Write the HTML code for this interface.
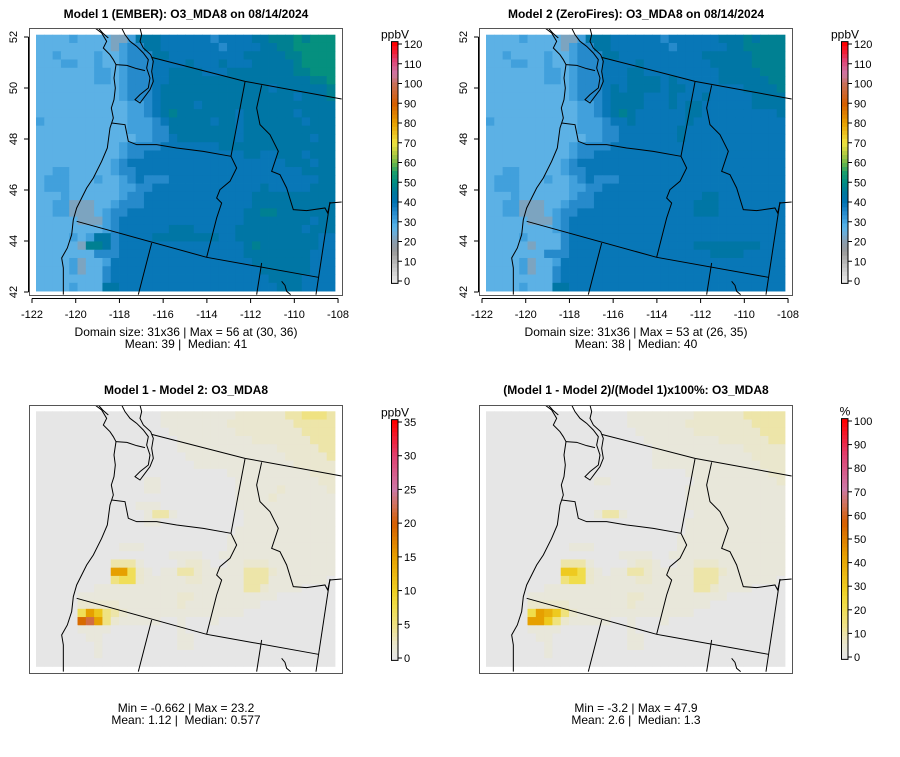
<!DOCTYPE html>
<html><head><meta charset="utf-8"><style>
html,body{margin:0;padding:0;background:#fff;}
svg text{font-family:"Liberation Sans",sans-serif;}
</style></head><body>
<svg id="chart" width="900" height="752" xmlns="http://www.w3.org/2000/svg"></svg>
<script>
// ---------- DATA ----------
const panelTitles = ["Model 1 (EMBER): O3_MDA8 on 08/14/2024","Model 2 (ZeroFires): O3_MDA8 on 08/14/2024","Model 1 - Model 2: O3_MDA8","(Model 1 - Model 2)/(Model 1)x100%: O3_MDA8"];
const statLine1 = ["Domain size: 31x36 | Max = 56 at (30, 36)","Domain size: 31x36 | Max = 53 at (26, 35)","Min = -0.662 | Max = 23.2","Min = -3.2 | Max = 47.9"];
const statLine2 = ["Mean: 39 |\u00a0 Median: 41","Mean: 38 |\u00a0 Median: 40","Mean: 1.12 |\u00a0 Median: 0.577","Mean: 2.6 |\u00a0 Median: 1.3"];
const xTicks = [-122,-120,-118,-116,-114,-112,-110,-108];
const yTicks = [42,44,46,48,50,52];
const ticksTop = [0,10,20,30,40,50,60,70,80,90,100,110,120];
const ticksDiff = [0,5,10,15,20,25,30,35];
const ticksPct = [0,10,20,30,40,50,60,70,80,90,100];
const codeTop = [12,17,22,27,31,35,39,43,47,51,55];
const codeDiff = [0,1,2,3.5,5,7,11,15,19,22];
const codePct = [0,3,6,10,15,22,30,38,43,48];
const gridM1 = [
"333343333224777666666566667788898999",
"333333333245577666666656666778899999",
"334333343345557766666666677777889999",
"333443343345556666766676667777789999",
"333333344345556677776667777777788999",
"333333344345556677777777777777777889",
"333333333345556777777777777767777778",
"333333333345556777777777777777767778",
"333333333334456777767777777777777777",
"333333333334456787777777677777767777",
"433333333334445677777677677777776777",
"333333333334445577777777677777777777",
"333333333333445567777777677777777677",
"333333333345555666666677777777777777",
"333333333345566666666666677667776777",
"333333333456666666666666666666777677",
"334433333455666666666666666666667777",
"344433343345655566666666666666666677",
"344433333344556666666666666766666777",
"333433333345566666666666667777777777",
"334422233455566666666666667777777777",
"334422234556666666666666677887777777",
"333332224566666666666666677777777677",
"333333334566666677766666777777776777",
"333343477566667777777766777777777766",
"333332887566666666666666678777777766",
"333333355566666666666666677777777666",
"333342334666666666666666667777777666",
"333342335666666666666666666777777666",
"333333335666666666666666666677776666",
"333343337766666666666666666667776666"];
const gridM2 = [
"333343333224777666666566666677787888",
"333333333245577666666656666667788888",
"334333343345557766666666667777778888",
"333443343345556666766666666777778888",
"333333344345556667766666666677777888",
"333333344345556667777676666677777788",
"333333333345556767777677666666677778",
"333333333345556777766676667666667777",
"333333333334456777766676776666667777",
"333333333334456787666666776666666667",
"433333333334445667666666766666666666",
"333333333334445566666667666666666666",
"333333333333445566666667666666666666",
"333333333345555666666666666666666666",
"333333333345566666666666666666666666",
"333333333456666666666666666666666666",
"334433333455666666666666666666666666",
"344433343345655566666666666666666666",
"344433333344556666666666666666666666",
"333433333345566666666666667766666666",
"334422233455566666666666677766666666",
"334422234556666666666666677766666666",
"333332224566666666666666666666666666",
"333333334566666666666666666666666666",
"333343333566666666666666666666666666",
"333332333566666666666666677777777666",
"333333355566666666666666666777766666",
"333342334666666666666666666666666666",
"333342335666666666666666666666666666",
"333333335666666666666666666666666666",
"333343337766666666666666666666666666"];
const gridDiff = [
"000000000000000111111111222222334443",
"000000000000000111111112222222233333",
"000000000000000011111111222222223333",
"000000000000000001111111112222222333",
"000000000000000001111111111112222233",
"000000000000000000111111111111222223",
"000000000000000000011111111111122222",
"000000000000000000000001111111111222",
"000000000000011000000000111111111122",
"000000000000011000000000111112111112",
"000000000000000000000000111121111111",
"000000000000111000000000111111111111",
"000000000000013310000000011111111111",
"000000000000011000000000011111111111",
"000000000000000000000000111111111111",
"000000000000000000000001111111111111",
"000000000011100000000001111111111111",
"000000000000000011110011111111111111",
"000000000333100001221001122211111111",
"000000000775210113321111133321111111",
"000000000455211111221111133311111110",
"000000011111111111111111133211110000",
"000001111111111112211111111110000000",
"000002222211111112111111111000000000",
"000005764321111111111111100000000000",
"000008974211111001000100000000000000",
"000001111000000001000000000000000000",
"000000110000000001100000000000000000",
"000000010000000001100000000000000000",
"000000010000000000000000000000000000",
"000000000000000000000000000000000000"];
const gridPct = [
"000000000000000001111111122222233333",
"000000000000000001111111222222223333",
"000000000000000000111111122222222333",
"000000000000000000011111111122222233",
"000000000000000000001111111111122222",
"000000000000000000001111111111112222",
"000000000000000000001111111111111222",
"000000000000000000000000111111111122",
"000000000000011000000000011111111112",
"000000000000000000000000111111111111",
"000000000000000000000000111111111111",
"000000000000000000000000111111111111",
"000000000000013310000000011111111111",
"000000000000000000000000111111111111",
"000000000000000000000000111111111111",
"000000000000000000000001111111111111",
"000000000011100000000001111111111111",
"000000000000000011110011111111111111",
"000000000333100001221001122211111111",
"000000000665210113321111133321111111",
"000000000455211111221111133311111110",
"000000011111111111111111133211110000",
"000001111111111112211111111110000000",
"000002222211111112111111111000000000",
"000005876421111111111111100000000000",
"000008864211111001000100000000000000",
"000001111000000001000000000000000000",
"000000110000000001100000000000000000",
"000000010000000001100000000000000000",
"000000010000000000000000000000000000",
"000000000000000000000000000000000000"];

// ---------- COLORMAPS ----------
const stopsTop = [[0,"#e8e8e8"],[8,"#c2c2c2"],[15,"#9a9a9a"],[20,"#8a9cac"],[25,"#68b0de"],[28,"#56b2e8"],[32,"#3a9ad8"],[36,"#1f84c6"],[40,"#0072b2"],[45,"#00789c"],[50,"#008c84"],[55,"#1a9e6c"],[60,"#70b848"],[65,"#b8cc40"],[70,"#f0e442"],[75,"#ecc020"],[80,"#e6a000"],[90,"#d55e00"],[100,"#c8705a"],[105,"#cc79a7"],[112,"#e04070"],[120,"#ff0000"]];
const stopsNorm = [[0,"#e6e6e6"],[0.057,"#eae7d0"],[0.143,"#efe282"],[0.23,"#f0dc44"],[0.286,"#efcf22"],[0.43,"#e6a000"],[0.57,"#d55e00"],[0.64,"#d07050"],[0.714,"#cc79a7"],[0.857,"#e04070"],[1,"#ff0000"]];
function hx(h){return [parseInt(h.substr(1,2),16),parseInt(h.substr(3,2),16),parseInt(h.substr(5,2),16)];}
function cmap(stops,v){
  if(v<=stops[0][0]) return stops[0][1];
  for(let i=1;i<stops.length;i++){
    if(v<=stops[i][0]){
      const a=hx(stops[i-1][1]),b=hx(stops[i][1]);
      const t=(v-stops[i-1][0])/(stops[i][0]-stops[i-1][0]);
      return "rgb("+a.map((c,k)=>Math.round(c+(b[k]-c)*t)).join(",")+")";
    }
  }
  return stops[stops.length-1][1];
}

// ---------- DRAW ----------
const NS="http://www.w3.org/2000/svg";
const svg=document.getElementById("chart");
function el(tag,attrs,parent){const e=document.createElementNS(NS,tag);for(const k in attrs)e.setAttribute(k,attrs[k]);(parent||svg).appendChild(e);return e;}
function txt(x,y,s,size,anchor,weight,parent){const t=el("text",{x:x,y:y,"font-size":size,"text-anchor":anchor||"middle","fill":"#000"},parent);if(weight)t.setAttribute("font-weight",weight);t.textContent=s;return t;}

const outlinePaths=[
"M195,0 L215,15 L230,40 L220,60 L240,80 L250,95 L258,110 L252,150 L256,180 L252,215 L244,240 L250,270 L240,300 L232,360 L215,400 L190,450 L170,480 L155,510 L140,540 L130,575 L125,620 L112,660 L95,690 L100,720 L100,800",
"M258,110 L290,112 L320,122 L345,128",
"M275,0 L285,20 L300,40 L320,55 L340,75 L355,95 L350,120 L360,150 L355,180 L330,200 L315,215 L330,225 L345,205 L360,185 L370,160 L365,130 L370,100 L362,80 L340,60 L330,40 L335,20 L330,0",
"M205,0 L218,15 L235,30",
"M365,88 L645,160 L935,213",
"M645,162 L603,385",
"M695,172 L680,240 L690,290 L720,320 L745,370 L725,430 L750,440 L770,480 L790,545 L830,548 L885,540 L893,555 L900,525 L935,522",
"M245,285 L285,290 L295,340 L320,350 L380,350 L440,360 L520,370 L603,385",
"M603,385 L620,420 L600,460 L570,485 L560,510 L575,525 L560,570 L530,688",
"M140,580 L530,688 L865,748",
"M900,522 L858,800",
"M365,645 L325,800",
"M695,705 L680,800",
"M755,760 L765,772 L770,790 L782,800"];

const panels=[
 {ox:0,grid:gridM1,codes:codeTop,stops:stopsTop,scale:1,ticks:ticksTop,unit:"ppbV",max:120,gy0:34.7,ch:8.27,axes:true,oyOut:28,name:"model1"},
 {ox:450,grid:gridM2,codes:codeTop,stops:stopsTop,scale:1,ticks:ticksTop,unit:"ppbV",max:120,gy0:34.7,ch:8.27,axes:true,oyOut:28,name:"model2"},
 {ox:0,grid:gridDiff,codes:codeDiff,stops:stopsNorm,scale:35,ticks:ticksDiff,unit:"ppbV",max:35,gy0:411.3,ch:8.23,axes:false,oyOut:405,name:"difference"},
 {ox:450,grid:gridPct,codes:codePct,stops:stopsNorm,scale:100,ticks:ticksPct,unit:"%",max:100,gy0:411.3,ch:8.23,axes:false,oyOut:405,name:"percent-difference"}];

panels.forEach((p,pi)=>{
  const g=el("g",{});
  
  
  const colorOf=v=>cmap(p.stops,p.scale===1?v:v/p.scale);
  const cw=299/36, gx0=36+p.ox;
  const cells=el("g",{},g);
  
  
  p.grid.forEach((row,r)=>{
    for(let c=0;c<row.length;c++){
      const v=p.codes[parseInt(row[c],36)];
      const rc=el("rect",{x:(gx0+c*cw).toFixed(2),y:(p.gy0+r*p.ch).toFixed(2),width:(cw+0.4).toFixed(2),height:(p.ch+0.4).toFixed(2),fill:colorOf(v)},cells);
      
      
    }
  });
  const bx=29.5+p.ox, by=(p.axes?28.5:405.5), bw=313, bh=(p.axes?267:268);
  const cid="clip"+pi;
  const cp=el("clipPath",{id:cid},g); el("rect",{x:bx,y:by,width:bw,height:bh},cp);
  const og=el("g",{"clip-path":"url(#"+cid+")"},g);
  const ot=el("g",{transform:"translate("+(30+p.ox)+","+p.oyOut+") scale(0.3333)"},og);
  
  
  outlinePaths.forEach(d=>el("path",{d:d,fill:"none",stroke:"#000","stroke-width":3},ot));
  const box=el("rect",{x:bx,y:by,width:bw,height:bh,fill:"none",stroke:"#555","stroke-width":1},g);
  
  
  const tt=txt(186+p.ox,p.axes?18:394,panelTitles[pi],12,"middle","bold",g);
  
  
  const s1=txt(186+p.ox,p.axes?336:712,statLine1[pi],12,"middle",null,g);
  
  
  const s2=txt(186+p.ox,p.axes?348:724,statLine2[pi],12,"middle",null,g);
  
  
  if(p.axes){
    const xs=lon=>32+p.ox+(lon+122)*21.86;
    const ys=lat=>292-(lat-42)*25.5;
    const xa=el("g",{},g);
    
    
    el("line",{x1:xs(xTicks[0]),x2:xs(xTicks[xTicks.length-1]),y1:298.5,y2:298.5,stroke:"#000"},xa);
    xTicks.forEach(v=>{el("line",{x1:xs(v),x2:xs(v),y1:298.5,y2:303,stroke:"#000"},xa);
      const l=txt(xs(v),318,String(v),11,"middle",null,xa);
      
      });
    const ya=el("g",{},g);
    
    
    el("line",{x1:28.5+p.ox,x2:28.5+p.ox,y1:ys(yTicks[0]),y2:ys(yTicks[yTicks.length-1]),stroke:"#000"},ya);
    yTicks.forEach(v=>{el("line",{x1:24+p.ox,x2:28.5+p.ox,y1:ys(v),y2:ys(v),stroke:"#000"},ya);
      const l=txt(0,0,String(v),11,"middle",null,ya);
      l.setAttribute("transform","translate("+(17+p.ox)+","+ys(v)+") rotate(-90)");
      
      });
  }
  const cb=el("g",{},g);
  
  
  const cbx=391+p.ox;
  const v0y=p.axes?281:(pi===2?658:657), vmy=p.axes?44:(pi===2?422:421);
  const cy=v=>v0y-(v/p.max)*(v0y-vmy);
  const steps=60;
  for(let i=0;i<steps;i++){
    const va=-p.max*0.01+i*(p.max*1.02)/steps, vb=va+(p.max*1.02)/steps;
    el("rect",{x:cbx,y:cy(vb),width:7,height:cy(va)-cy(vb)+0.5,fill:colorOf((va+vb)/2)},cb);
  }
  el("rect",{x:cbx+0.5,y:cy(p.max*1.01),width:6.5,height:cy(-p.max*0.01)-cy(p.max*1.01),fill:"none",stroke:"#000","stroke-width":1},cb);
  p.ticks.forEach(v=>{el("line",{x1:cbx+7,x2:cbx+11,y1:cy(v),y2:cy(v),stroke:"#000"},cb);
    const l=txt(cbx+13,cy(v)+4,String(v),11,"start",null,cb);
    
    });
  const u=txt(cbx+4,cy(p.max*1.01)-3,p.unit,12,"middle",null,cb);
  
  
});
</script>
</body></html>
